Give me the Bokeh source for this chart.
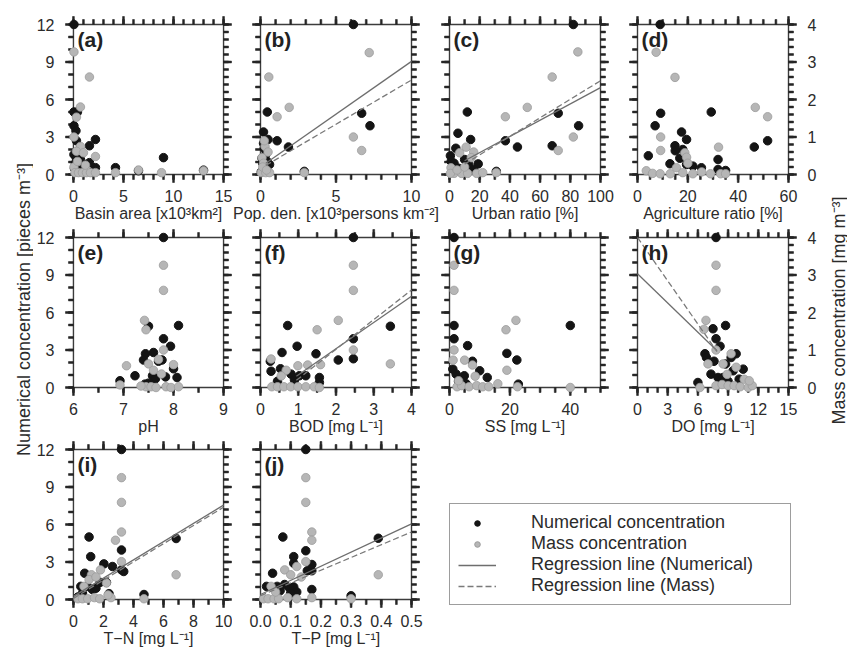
import math
from bokeh.plotting import figure
from bokeh.layouts import row, column
from bokeh.models import (Range1d, LinearAxis, SingleIntervalTicker, Label, Legend,
                          PrintfTickFormatter)
from bokeh.embed import file_html
from bokeh.resources import INLINE

FONT = "Liberation Sans"
TXT = "#2b2b2b"
FRAME = "#3c3c3c"
TICK_COLOR = "#262626"
BLACK = "#141414"
GRAY = "#b6b6b6"
GRAY_EDGE = "#9c9c9c"
REG_SOLID = "#6e6e6e"
REG_DASH = "#7a7a7a"

# ---------------- data (numerical: pieces m-3, mass: mg m-3) ----------------
A_NUM_X = [0.05, 0.05, 0.4, 0.05, 0.25, 0.3, 2.2, 1.6, 0.05, 0.3, 0.7, 1.2, 1.6, 2.2, 4.2, 9.0, 0.1, 0.5, 0.9, 1.9, 13.0, 6.5, 0.2, 0.6]
A_NUM_Y = [12.0, 5.0, 5.0, 3.9, 3.5, 2.7, 2.8, 2.3, 1.6, 1.3, 1.2, 0.8, 0.95, 0.55, 0.55, 1.35, 0.5, 0.3, 0.4, 0.2, 0.35, 0.3, 0.9, 2.0]
A_MASS_X = [0.05, 1.6, 0.7, 0.3, 0.05, 0.7, 2.2, 0.3, 1.0, 0.05, 0.15, 0.5, 0.9, 1.3, 1.7, 2.2, 4.2, 6.5, 8.8, 13.0, 0.4, 1.2]
A_MASS_Y = [3.27, 2.6, 1.8, 1.53, 1.0, 0.75, 0.48, 0.62, 0.58, 0.2, 0.05, 0.05, 0.05, 0.05, 0.05, 0.05, 0.05, 0.12, 0.05, 0.1, 0.35, 0.25]

B_NUM_X = [6.15, 6.7, 7.25, 0.45, 0.2, 0.5, 1.1, 1.85, 0.25, 0.35, 0.6, 0.1, 0.15, 0.3, 2.9, 0.05, 0.4, 0.2]
B_NUM_Y = [12.0, 4.9, 3.9, 5.0, 3.4, 2.8, 2.7, 2.2, 2.1, 1.6, 0.8, 1.3, 0.9, 0.5, 0.25, 0.2, 1.1, 2.5]
B_MASS_X = [7.2, 0.55, 1.9, 1.1, 6.15, 6.7, 0.3, 0.5, 0.1, 0.2, 0.05, 0.35, 0.6, 0.15, 2.9, 0.4, 0.25]
B_MASS_Y = [3.25, 2.6, 1.79, 1.54, 1.0, 0.64, 0.75, 0.6, 0.45, 0.3, 0.05, 0.05, 0.05, 0.2, 0.05, 0.12, 0.9]
B_REG_X = [0.35, 10.0]
B_REG_NUM = [0.6, 0.845]
B_REG_MASS = [0.16, 0.236]

C_NUM_X = [82, 11.8, 5.6, 14, 4.2, 37, 45, 72, 68, 85.5, 0.6, 10, 12.7, 1.1, 19, 31, 2.5, 6, 8, 16, 3]
C_NUM_Y = [12, 5.0, 3.3, 2.8, 2.1, 2.7, 2.2, 4.9, 2.3, 3.9, 1.5, 1.2, 0.8, 1.05, 0.85, 0.25, 0.6, 0.5, 0.3, 0.4, 0.9]
C_MASS_X = [85, 68, 51.5, 37, 82, 72, 11, 6.7, 16, 14.4, 1, 3, 8, 12, 18, 22, 31, 0.6, 5, 10]
C_MASS_Y = [3.27, 2.6, 1.79, 1.54, 1.0, 0.64, 0.73, 0.58, 0.6, 0.45, 0.18, 0.03, 0.03, 0.03, 0.03, 0.05, 0.05, 0.03, 0.12, 0.2]
C_REG_X = [10.0, 100.0]
C_REG_NUM = [0.45, 0.065]
C_REG_MASS = [0.03, 0.0247]

D_NUM_X = [9, 9.2, 7, 4.3, 17.5, 14.9, 19.5, 29.3, 16.8, 12.9, 19.5, 22, 25.4, 32, 32, 35, 46.4, 51.7, 18, 15]
D_NUM_Y = [12, 4.9, 3.9, 1.5, 3.4, 2.3, 2.8, 5.0, 1.3, 0.86, 0.8, 0.67, 0.54, 1.2, 0.4, 0.32, 2.2, 2.7, 2.0, 1.9]
D_MASS_X = [7.4, 14.9, 9.2, 9.2, 46.8, 51.7, 32.2, 18.8, 19.5, 15.5, 3.5, 6, 9, 13, 18, 22, 25.5, 29, 33, 35, 20]
D_MASS_Y = [3.26, 2.59, 1.0, 0.64, 1.79, 1.54, 0.73, 0.58, 0.46, 0.18, 0.1, 0.03, 0.02, 0.02, 0.05, 0.02, 0.07, 0.02, 0.02, 0.02, 0.3]

E_NUM_X = [7.8, 8.1, 7.5, 7.8, 7.94, 7.44, 7.6, 7.4, 7.77, 8.0, 7.23, 7.58, 7.64, 7.84, 8.07, 6.93, 7.43, 7.7, 7.5]
E_NUM_Y = [12, 4.96, 4.9, 3.9, 3.3, 2.7, 2.8, 2.2, 2.2, 1.5, 0.94, 0.94, 0.7, 0.85, 0.8, 0.54, 0.27, 2.1, 0.35]
E_MASS_X = [7.8, 7.8, 7.42, 7.45, 7.8, 7.06, 7.5, 7.6, 7.76, 8.0, 6.93, 7.45, 7.55, 7.65, 7.85, 7.95, 8.1, 7.35, 7.7]
E_MASS_Y = [3.26, 2.59, 1.79, 1.54, 1.0, 0.58, 0.63, 0.46, 0.36, 0.61, 0.07, 0.02, 0.02, 0.0, 0.02, 0.0, 0.02, 0.04, 0.75]

F_NUM_X = [2.46, 0.72, 2.46, 2.46, 2.06, 3.44, 0.97, 1.47, 0.57, 0.26, 0.53, 0.28, 0.81, 1.03, 1.2, 1.56, 1.56, 0.9, 0.45]
F_NUM_Y = [12, 4.96, 3.9, 2.3, 2.2, 4.9, 3.3, 2.7, 2.8, 2.1, 1.5, 1.3, 1.07, 0.94, 0.94, 0.8, 0.4, 0.6, 0.5]
F_MASS_X = [2.46, 2.46, 2.06, 1.5, 2.46, 3.44, 1.59, 0.28, 0.99, 0.68, 0.55, 0.3, 0.45, 0.62, 0.8, 0.99, 1.2, 1.42, 1.56, 1.25]
F_MASS_Y = [3.26, 2.59, 1.79, 1.54, 1.0, 0.63, 0.61, 0.76, 0.58, 0.46, 0.31, 0.02, 0.02, 0.02, 0.02, 0.02, 0.02, 0.02, 0.0, 0.6]
F_REG_X = [0.95, 4.0]
F_REG_NUM = [-1.1, 2.1]
F_REG_MASS = [-0.56, 0.79]

G_NUM_X = [1.5, 1.5, 1.5, 6, 19, 22.3, 40, 7.6, 10, 12.5, 22.8, 1.1, 2.2, 4.9, 3, 5.5]
G_NUM_Y = [12, 4.96, 3.9, 3.35, 2.73, 2.2, 4.96, 2.1, 1.34, 0.8, 0.27, 1.47, 1.07, 0.94, 0.5, 0.3]
G_MASS_X = [1.5, 1.5, 18.7, 22, 1.5, 19, 1.2, 5, 7.6, 40, 2.5, 4, 6.5, 9, 11, 13, 16, 22.5, 3, 8.5]
G_MASS_Y = [3.26, 2.59, 1.54, 1.79, 1.0, 0.46, 0.73, 0.73, 0.6, 0.0, 0.02, 0.05, 0.02, 0.05, 0.02, 0.02, 0.1, 0.02, 0.18, 0.3]

H_NUM_X = [7.8, 8.75, 7.5, 7.8, 8.2, 9.3, 9.8, 6.7, 6.85, 10.5, 7.3, 8.0, 8.5, 9.5, 8.75, 6.0, 10.1, 9.0, 7.6]
H_NUM_Y = [12, 4.96, 4.7, 3.9, 3.3, 2.4, 2.7, 2.7, 2.4, 1.47, 1.07, 0.8, 0.8, 1.34, 1.88, 0.4, 0.67, 0.5, 2.1]
H_MASS_X = [7.8, 7.8, 6.8, 6.6, 7.8, 7.0, 8.5, 9.8, 10.6, 6.2, 7.8, 8.4, 9.0, 9.6, 10.2, 11.0, 11.4, 11.1, 8.9, 9.3]
H_MASS_Y = [3.26, 2.59, 1.79, 1.55, 1.0, 0.63, 0.63, 0.54, 0.22, 0.0, 0.05, 0.08, 0.05, 0.05, 0.02, 0.0, 0.05, 0.18, 0.35, 0.9]
H_REG_X = [0.0, 7.9]
H_REG_NUM = [9.1, -0.78]
H_REG_MASS = [4.0, -0.385]

I_NUM_X = [3.2, 1.04, 1.15, 0.75, 2.03, 2.6, 3.2, 3.2, 3.35, 6.84, 0.49, 0.93, 1.26, 1.77, 2.2, 2.37, 4.7, 0.3, 0.6, 1.5]
I_NUM_Y = [12, 5.0, 3.43, 2.1, 2.85, 2.64, 3.96, 2.37, 2.24, 4.88, 1.05, 1.05, 0.8, 1.37, 1.37, 0.47, 0.4, 0.2, 0.5, 0.9]
I_MASS_X = [3.2, 3.2, 3.2, 2.8, 3.2, 6.84, 1.8, 1.2, 1.04, 2.2, 0.7, 0.3, 0.6, 0.95, 1.4, 1.75, 2.5, 4.7, 2.3, 1.5]
I_MASS_Y = [3.25, 2.59, 1.8, 1.58, 1.01, 0.66, 0.79, 0.66, 0.53, 0.44, 0.35, 0.02, 0.02, 0.02, 0.05, 0.02, 0.05, 0.02, 0.12, 0.6]
I_REG_X = [0.0, 10.0]
I_REG_NUM = [0.25, 0.73]
I_REG_MASS = [0.03, 0.243]

J_NUM_X = [0.15, 0.074, 0.11, 0.11, 0.15, 0.155, 0.17, 0.17, 0.17, 0.39, 0.04, 0.02, 0.055, 0.08, 0.095, 0.11, 0.12, 0.30, 0.065, 0.1]
J_NUM_Y = [12, 5.0, 3.43, 2.9, 3.9, 2.3, 2.3, 2.8, 0.8, 4.9, 2.1, 1.05, 1.05, 1.2, 0.95, 1.0, 0.6, 0.3, 0.7, 0.5]
J_MASS_X = [0.15, 0.15, 0.17, 0.17, 0.15, 0.39, 0.08, 0.1, 0.12, 0.035, 0.01, 0.025, 0.045, 0.06, 0.09, 0.12, 0.17, 0.30, 0.135, 0.05]
J_MASS_Y = [3.25, 2.59, 1.8, 1.58, 1.01, 0.66, 0.79, 0.66, 0.88, 0.35, 0.02, 0.02, 0.02, 0.02, 0.05, 0.02, 0.05, 0.02, 0.6, 0.2]
J_REG_X = [0.0, 0.5]
J_REG_NUM = [0.4, 11.3]
J_REG_MASS = [0.1, 3.4]

NUM_RANGE = [0, 12]
MASS_RANGE = [0, 4]
NUM_TICK = [3, 1]      # major / minor interval of the left axis
MASS_TICK = [1, 0.2]   # major / minor interval of the right axis

# ---------------- layout constants (page has no body margin) ----------------
BOX_W, BOX_H = 151, 150   # plotting box
M = 9                     # frame margin around the box (room for outward ticks)
FRW, FRH = BOX_W + 2 * M, BOX_H + 2 * M
COL_LB = [30, 19, 0, 14]
COL_RB = [0, 20, 5, 30]
ROW_TB = [15, 2, 1]
BB = 43
LEFT_W = 33
RIGHT_W = 20
MAJ_LEN, MIN_LEN = 8, 5
TICK_W = 1.8


def positions(lo, hi, step):
    n = int(round((hi - lo) / step))
    return [lo + k * step for k in range(n + 1)]


def style_axis(ax, ticker, standoff):
    ax.ticker = ticker
    ax.axis_line_color = None
    ax.major_tick_in = 0
    ax.major_tick_out = 0
    ax.minor_tick_in = 0
    ax.minor_tick_out = 0
    ax.major_tick_line_color = None
    ax.minor_tick_line_color = None
    ax.major_label_text_font = FONT
    ax.major_label_text_font_size = "16px"
    ax.major_label_text_color = TXT
    ax.major_label_standoff = standoff


def add_frame_and_ticks(p, xlo, xhi, xint, xminor):
    ylo, yhi = NUM_RANGE
    mlo, mhi = MASS_RANGE
    ppx = BOX_W / (xhi - xlo)
    ppy = BOX_H / (yhi - ylo)
    ppm = BOX_H / (mhi - mlo)
    p.quad(left=[xlo], right=[xhi], bottom=[ylo], top=[yhi], fill_color=None,
           line_color=FRAME, line_width=1.4)
    kw = dict(fill_color=TICK_COLOR, fill_alpha=1.0, line_color=TICK_COLOR, line_width=0.6)
    hx = TICK_W / 2 / ppx
    hy = TICK_W / 2 / ppy
    hm = TICK_W / 2 / ppm
    for length, step in ((MIN_LEN, xint / xminor), (MAJ_LEN, xint)):
        xs = positions(xlo, xhi, step)
        n = len(xs)
        d = length / ppy
        lefts = [x - hx for x in xs]
        rights = [x + hx for x in xs]
        p.quad(left=lefts, right=rights, bottom=[ylo - d] * n, top=[ylo] * n, **kw)
        p.quad(left=lefts, right=rights, bottom=[yhi] * n, top=[yhi + d] * n, **kw)
    for length, step in ((MIN_LEN, NUM_TICK[1]), (MAJ_LEN, NUM_TICK[0])):
        ys = positions(ylo, yhi, step)
        n = len(ys)
        d = length / ppx
        p.quad(left=[xlo - d] * n, right=[xlo] * n,
               bottom=[y - hy for y in ys], top=[y + hy for y in ys], **kw)
    for length, step in ((MIN_LEN, MASS_TICK[1]), (MAJ_LEN, MASS_TICK[0])):
        ms = positions(mlo, mhi, step)
        n = len(ms)
        d = length / ppx
        p.quad(left=[xhi] * n, right=[xhi + d] * n,
               bottom=[m - hm for m in ms], top=[m + hm for m in ms],
               y_range_name="mass", **kw)


def panel(letter, xr, xint, xminor, xlabel, nx, ny, mx, my, col, rw,
          reg_x=None, reg_num=None, reg_mass=None, xfmt=None):
    lb, rb, tb = COL_LB[col], COL_RB[col], ROW_TB[rw]
    xlo, xhi = xr
    ppx = BOX_W / (xhi - xlo)
    ppy = BOX_H / (NUM_RANGE[1] - NUM_RANGE[0])
    ppm = BOX_H / (MASS_RANGE[1] - MASS_RANGE[0])
    p = figure(width=lb + FRW + rb, height=tb + FRH + BB,
               x_range=Range1d(xlo - M / ppx, xhi + M / ppx),
               y_range=Range1d(NUM_RANGE[0] - M / ppy, NUM_RANGE[1] + M / ppy),
               output_backend="svg", toolbar_location=None, tools="",
               min_border_left=lb, min_border_right=rb,
               min_border_top=tb, min_border_bottom=BB)
    p.extra_y_ranges = {"mass": Range1d(MASS_RANGE[0] - M / ppm, MASS_RANGE[1] + M / ppm)}
    p.grid.visible = False
    p.outline_line_color = None

    xb = p.xaxis[0]
    style_axis(xb, SingleIntervalTicker(interval=xint), 6)
    if xfmt is not None:
        xb.formatter = PrintfTickFormatter(format=xfmt)
    xb.axis_label = xlabel
    xb.axis_label_text_font = FONT
    xb.axis_label_text_font_size = "16px"
    xb.axis_label_text_font_style = "normal"
    xb.axis_label_text_color = TXT
    xb.axis_label_standoff = 0

    yl = p.yaxis[0]
    if col == 0:
        style_axis(yl, SingleIntervalTicker(interval=NUM_TICK[0]), 10)
    else:
        yl.visible = False

    if col == 3:
        yr = LinearAxis(y_range_name="mass")
        style_axis(yr, SingleIntervalTicker(interval=MASS_TICK[0]), 10)
        p.add_layout(yr, "right")

    add_frame_and_ticks(p, xlo, xhi, xint, xminor)

    p.scatter(nx, ny, size=8.5, fill_color=BLACK, line_color=BLACK)
    p.scatter(mx, my, y_range_name="mass", size=8.5, fill_color=GRAY,
              line_color=GRAY_EDGE, line_width=0.8)
    if reg_x is not None:
        p.line(reg_x, [reg_num[0] + reg_num[1] * x for x in reg_x],
               line_color=REG_SOLID, line_width=1.3)
        p.line(reg_x, [reg_mass[0] + reg_mass[1] * x for x in reg_x],
               y_range_name="mass", line_color=REG_DASH, line_width=1.3, line_dash="6 3")

    p.add_layout(Label(x=M + 4, y=M + BOX_H - 3, x_units="screen", y_units="screen", text=letter,
                       text_baseline="top", text_align="left", text_font=FONT,
                       text_font_size="21px", text_font_style="bold", text_color="#222222"))
    return p


pa = panel("(a)", (0, 15), 5, 5, "Basin area [x10³km²]", A_NUM_X, A_NUM_Y, A_MASS_X, A_MASS_Y, 0, 0)
pb = panel("(b)", (0, 10), 5, 5, "Pop. den. [x10³persons km⁻²]", B_NUM_X, B_NUM_Y, B_MASS_X, B_MASS_Y, 1, 0,
           B_REG_X, B_REG_NUM, B_REG_MASS)
pc = panel("(c)", (0, 100), 20, 2, "Urban ratio [%]", C_NUM_X, C_NUM_Y, C_MASS_X, C_MASS_Y, 2, 0,
           C_REG_X, C_REG_NUM, C_REG_MASS)
pd = panel("(d)", (0, 60), 20, 4, "Agriculture ratio [%]", D_NUM_X, D_NUM_Y, D_MASS_X, D_MASS_Y, 3, 0)

pe = panel("(e)", (6, 9), 1, 2, "pH", E_NUM_X, E_NUM_Y, E_MASS_X, E_MASS_Y, 0, 1)
pf = panel("(f)", (0, 4), 1, 2, "BOD [mg L⁻¹]", F_NUM_X, F_NUM_Y, F_MASS_X, F_MASS_Y, 1, 1,
           F_REG_X, F_REG_NUM, F_REG_MASS)
pg = panel("(g)", (0, 50), 20, 4, "SS [mg L⁻¹]", G_NUM_X, G_NUM_Y, G_MASS_X, G_MASS_Y, 2, 1)
ph = panel("(h)", (0, 15), 3, 3, "DO [mg L⁻¹]", H_NUM_X, H_NUM_Y, H_MASS_X, H_MASS_Y, 3, 1,
           H_REG_X, H_REG_NUM, H_REG_MASS)

pi_ = panel("(i)", (0, 10), 2, 2, "T−N [mg L⁻¹]", I_NUM_X, I_NUM_Y, I_MASS_X, I_MASS_Y, 0, 2,
            I_REG_X, I_REG_NUM, I_REG_MASS)
pj = panel("(j)", (0, 0.5), 0.1, 2, "T−P [mg L⁻¹]", J_NUM_X, J_NUM_Y, J_MASS_X, J_MASS_Y, 1, 2,
           J_REG_X, J_REG_NUM, J_REG_MASS, xfmt="%.1f")

# legend panel (occupies the two empty cells of the last row); borders match the row
LW = COL_LB[2] + FRW + COL_RB[2] + COL_LB[3] + FRW + COL_RB[3]
LH = ROW_TB[2] + FRH + BB
lf = figure(width=LW, height=LH, x_range=Range1d(0, 1), y_range=Range1d(0, 1),
            output_backend="svg", toolbar_location=None, tools="",
            x_axis_location=None, y_axis_location=None,
            min_border_left=COL_LB[2], min_border_top=ROW_TB[2],
            min_border_right=0, min_border_bottom=BB)
lf.grid.visible = False
lf.outline_line_color = None
OFF = [-5]  # legend-only glyphs sit outside the visible range
r1 = lf.scatter(OFF, OFF, fill_color=BLACK, line_color=BLACK)
r2 = lf.scatter(OFF, OFF, fill_color=GRAY, line_color=GRAY_EDGE)
r3 = lf.line(OFF, OFF, line_color=REG_SOLID, line_width=1.3)
r4 = lf.line(OFF, OFF, line_color=REG_DASH, line_width=1.3, line_dash="6 3")
leg = Legend(items=[("Numerical concentration", [r1]),
                    ("Mass concentration", [r2]),
                    ("Regression line (Numerical)", [r3]),
                    ("Regression line (Mass)", [r4])],
             location=(9, 3), margin=0, padding=8, spacing=-2,
             glyph_width=38, glyph_height=14, label_standoff=35, label_width=251,
             label_text_font=FONT, label_text_font_size="18px", label_text_color=TXT,
             border_line_color=FRAME, border_line_width=1.4, background_fill_color="white")
lf.add_layout(leg)

TOTAL_H = sum(ROW_TB) + 3 * FRH + 3 * BB

left = figure(width=LEFT_W, height=TOTAL_H, x_range=Range1d(0, LEFT_W), y_range=Range1d(0, TOTAL_H),
              output_backend="svg", toolbar_location=None, tools="",
              x_axis_location=None, y_axis_location=None, min_border=0)
left.grid.visible = False
left.outline_line_color = None
left.add_layout(Label(x=23, y=TOTAL_H - 309, text="Numerical concentration [pieces m⁻³]",
                      angle=math.pi / 2, text_align="center", text_baseline="middle",
                      text_font=FONT, text_font_size="18px", text_color=TXT))

right = figure(width=RIGHT_W, height=TOTAL_H, x_range=Range1d(0, RIGHT_W), y_range=Range1d(0, TOTAL_H),
               output_backend="svg", toolbar_location=None, tools="",
               x_axis_location=None, y_axis_location=None, min_border=0)
right.grid.visible = False
right.outline_line_color = None
right.add_layout(Label(x=11, y=TOTAL_H - 310, text="Mass concentration [mg m⁻³]",
                       angle=math.pi / 2, text_align="center", text_baseline="middle",
                       text_font=FONT, text_font_size="18px", text_color=TXT))

grid = column(row(pa, pb, pc, pd, spacing=0),
              row(pe, pf, pg, ph, spacing=0),
              row(pi_, pj, lf, spacing=0), spacing=0)
layout = row(left, grid, right, spacing=0)

open("out.html", "w").write(file_html(layout, INLINE))
